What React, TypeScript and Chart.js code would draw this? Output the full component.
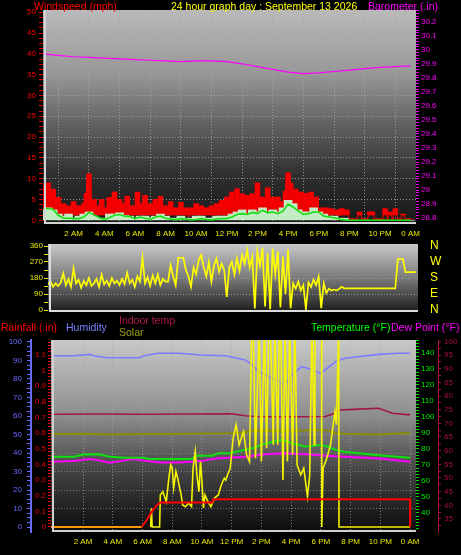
import React, { useEffect, useRef } from 'react';
import { Chart, registerables } from 'chart.js';

Chart.register(...registerables);

const FONT = '"Liberation Sans", Arial, Helvetica, sans-serif';

// ---------- shared time axis (hours of the day) ----------
const xTickHours = [2, 4, 6, 8, 10, 12, 14, 16, 18, 20, 22, 24];
const xTickLabels = ['2 AM', '4 AM', '6 AM', '8 AM', '10 AM', '12 PM', '2 PM', '4 PM', '6 PM', '8 PM', '10 PM', '0 AM'];

// ---------- top panel: wind (mph) & barometer (in) ----------
const gustHours = Array.from({ length: 145 }, (_, i) => i / 6); // 10-minute samples
const gustMph = [
  8.5, 6, 9, 5, 7.5, 4,
  5.5, 2.5, 4, 2, 3.5, 2.5,
  4.5, 2, 3.5, 2, 4, 6.5,
  11.2, 3, 5, 2, 3.5, 5,
  2.5, 3, 5.5, 3, 6.8, 3.5,
  5, 2.5, 4, 5.8, 2.5, 3.5,
  2, 6.8, 3, 4, 6, 2.5,
  4, 2, 5, 3, 5.8, 2,
  3.5, 2, 4.5, 1.5, 3, 1.5,
  4.3, 1.5, 3, 1, 3, 2,
  4, 2, 3.5, 1.5, 3, 2,
  3.5, 2, 4, 2.5, 4.8, 2,
  5.6, 2.5, 6.8, 3, 7.6, 3,
  6.4, 3.5, 6, 3, 6.4, 2.5,
  9, 3, 5.6, 3, 7.8, 3.5,
  5.6, 2.5, 5.6, 3, 4.5, 7,
  11.4, 8.9, 6, 7.5, 4, 6.8,
  4.5, 6.5, 3.5, 6.8, 3, 5.6,
  2.5, 3, 2, 3, 2, 2.8,
  1.5, 2.5, 1.2, 2.8, 1.5, 2.5,
  0.3, 0.3, 0.3, 0.3, 2, 0.3,
  0.3, 0.3, 2, 2, 0.3, 0.3,
  0.3, 0.3, 2.8, 0.3, 2, 0.3,
  2.8, 0.3, 0.3, 1.5, 0.3, 0.3,
  0.3,
];
const windHours = Array.from({ length: 73 }, (_, i) => i / 3); // 20-minute samples
const windAvgMph = [
  2.6, 2.9, 2.6, 1.2, 0.5, 0.5, 0.4, 0.4, 0.8, 1.9, 1.3, 0.6,
  0.2, 0.6, 1.2, 1.4, 1.0, 0.9, 0.4, 0.8, 0.5, 0.2, 0.8, 1.0,
  0.5, 0.3, 0.1, 0.4, 0.3, 0.1, 0.2, 0.4, 0.2, 0.1, 0.3, 0.4,
  0.4, 0.8, 1.4, 1.6, 1.4, 1.9, 1.6, 2.4, 1.8, 2.0, 1.6, 2.2,
  3.9, 3.2, 2.2, 1.4, 1.6, 2.0, 2.0, 1.0, 0.8, 0.6, 0.3, 0.1,
  0, 0, 0, 0, 0, 0, 0, 0, 0, 0, 0, 0,
  0,
];
const windSpeedMph = [
  2.5, 3, 2.5, 1.5, 1, 1.5, 0.5, 1, 1.5, 2, 1, 0.5,
  0.5, 1.5, 1.5, 1.8, 1.2, 1, 0.5, 1, 1, 0.5, 1, 1.5,
  1, 0.5, 0.5, 1, 0.5, 0.5, 1, 1, 0.5, 0.5, 1, 1,
  1, 1.5, 2, 2.5, 1.5, 2.5, 2, 3, 2, 2.5, 2, 3,
  4.8, 4, 2.5, 2, 2, 3, 2, 1.5, 1, 1, 0.5, 0.5,
  0, 0, 0, 0, 0, 0, 0, 0, 0, 0, 0, 0,
  0,
];
const baroHours = Array.from({ length: 25 }, (_, i) => i);
const baroInches = [
  29.97, 29.96, 29.95, 29.945, 29.94, 29.935, 29.93, 29.925, 29.92, 29.915, 29.92, 29.92,
  29.915, 29.9, 29.88, 29.86, 29.84, 29.83, 29.835, 29.845, 29.855, 29.865, 29.875, 29.88, 29.885,
];

// ---------- middle panel: wind direction (degrees) ----------
const dirHours = Array.from({ length: 145 }, (_, i) => i / 6);
const windDirDeg = [
  145, 160, 130, 150, 135, 155,
  206, 140, 175, 130, 234, 150,
  170, 125, 165, 140, 180, 135,
  150, 175, 130, 200, 145, 165,
  135, 180, 150, 165, 140, 175,
  145, 210, 150, 170, 130, 190,
  160, 294, 150, 185, 135, 195,
  150, 200, 140, 175, 160, 160,
  253, 190, 140, 294, 294, 294,
  225, 190, 130, 240, 200, 281,
  309, 240, 190, 270, 160, 250,
  290, 215, 260, 225, 73, 240,
  270, 200, 290, 220, 310, 260,
  337, 240, 300, 9, 330, 250,
  350, 20, 320, 5, 345, 200,
  330, 15, 300, 90, 340, 10,
  150, 120, 160, 110, 140, 5,
  155, 130, 170, 140, 187, 10,
  150, 95, 120, 110, 115, 110,
  118, 130, 122, 122, 122, 122,
  122, 122, 122, 122, 122, 122,
  122, 122, 122, 122, 122, 122,
  122, 122, 122, 122, 122, 287,
  287, 287, 213, 213, 213, 213,
  213,
];
const compassValues = [0, 90, 180, 270, 360];
const compassLabels = ['N', 'E', 'S', 'W', 'N'];

// ---------- bottom panel ----------
const rainHours = [-0.15, 5.95, 6.29, 6.63, 6.97, 7.2, 10.7, 10.75, 24.0, 24.01];
const rainInches = [0, 0, 0.045, 0.098, 0.141, 0.156, 0.156, 0.178, 0.178, 0];

const humHours = [-0.15, 1.35, 2.5, 2.7, 3.6, 5.8, 6.1, 7.05, 8.5, 9.9, 11.6, 12.9, 13.4, 13.8, 14.7, 15.6, 16.05, 16.7, 17.4, 17.96, 18.3, 19.0, 19.6, 20.5, 21.9, 23.2, 24.0];
const humPct = [92.6, 92.6, 93.3, 92.6, 91.5, 91.5, 92.6, 93.9, 93.9, 93, 92.6, 90.3, 87.6, 84, 80.4, 76.8, 82, 86.7, 85, 83, 85, 89.4, 91.2, 92, 93.3, 93.9, 93.9];

const indoorHours = [-0.15, 3, 6, 9, 12, 12.9, 13.8, 16, 18.3, 18.9, 19.3, 20.5, 21.9, 22.8, 24.0];
const indoorF = [73.3, 73.4, 73.3, 73.4, 73.5, 72.8, 72.4, 72.4, 72.5, 73.6, 74.9, 75.2, 75.5, 73.7, 73.1];

const solarAvgHours = [-0.15, 2, 4, 6, 8, 10, 12, 12.9, 13.4, 15, 17, 17.8, 18.4, 19.0, 20, 22, 23, 24.0];
const solarAvg = [594, 596, 592, 595, 594, 598, 600, 605, 617, 615, 617, 622, 618, 600, 594, 592, 598, 600];

const tempHours = [-0.15, 1.4, 2.0, 3.0, 3.8, 4.8, 6.1, 6.4, 9.3, 9.6, 10.7, 11.1, 11.8, 12.5, 13.4, 14.1, 15.0, 15.4, 16.1, 17.0, 17.8, 18.3, 19.0, 19.6, 21.0, 22.3, 24.0];
const tempF = [75.2, 75.2, 76.5, 76.7, 75.2, 74.5, 74.5, 73.7, 73.7, 75.8, 75.8, 77.3, 77.3, 78.7, 80.4, 82.9, 85, 85.6, 83.5, 81.4, 82.5, 82, 79.4, 78.3, 76.9, 75.8, 74.5];

const dewHours = [-0.15, 1.35, 2.5, 3.1, 3.8, 4.5, 5.4, 6.3, 7.2, 8.5, 9.9, 11.1, 11.8, 12.9, 14.3, 15.6, 17.0, 18.3, 19.6, 21.0, 22.3, 24.0];
const dewF = [72.0, 72.4, 73.7, 72.8, 71.4, 72.4, 73.7, 72.4, 71.6, 71.6, 72.4, 74.2, 74.5, 75.2, 76.7, 77.3, 76.7, 75.8, 75.2, 74.5, 73.7, 72.0];

const solarHours = [
  6.55, 6.6, 6.65, 7.15, 7.2, 7.37, 7.6, 7.8, 7.9, 8.0, 8.1, 8.25, 8.36, 8.6, 8.7, 8.9, 9.1, 9.3, 9.4, 9.55,
  9.66, 9.8, 9.9, 10.0, 10.1, 10.2, 10.4, 10.6, 10.85, 11.1, 11.3, 11.5, 11.6, 11.75, 11.9, 12.1, 12.3, 12.5, 12.8, 13.0,
  13.2, 13.35, 13.45, 13.6, 13.85, 14.0, 14.2, 14.35, 14.5, 14.6, 14.8, 14.9, 15.1, 15.2, 15.3, 15.45, 15.6, 15.75, 15.9, 16.1,
  16.25, 16.4, 16.65, 16.85, 17.1, 17.25, 17.4, 17.55, 17.6, 17.85, 18.05, 18.06, 18.15, 18.4, 18.65, 18.8, 18.95, 19.05, 19.2, 19.22,
  24.0,
];
const solarWm2 = [
  0, 120, 0, 0, 205, 226, 162, 333, 397, 376, 250, 355, 314, 205, 141, 130, 154, 130, 376, 483,
  333, 225, 419, 290, 122, 205, 162, 130, 186, 205, 269, 312, 300, 340, 376, 569, 654, 526, 611, 462,
  419, 1300, 1300, 440, 1300, 419, 1300, 504, 1300, 1300, 526, 1300, 526, 1300, 1300, 301, 1300, 419, 1300, 462,
  1300, 397, 333, 376, 194, 333, 1300, 526, 1300, 1300, 1300, 0, 376, 440, 526, 633, 739, 654, 1300, 0,
  0,
];

// ---------- helpers ----------
function range(a: number, b: number, step: number) {
  const out: number[] = [];
  const n = Math.round((b - a) / step);
  for (let i = 0; i <= n; i++) out.push(+(a + i * step).toFixed(4));
  return out;
}
const isMajor = (v: number, step: number) => {
  const r = v / step;
  return Math.abs(r - Math.round(r)) < 1e-6;
};
const fixedTicks = (values: number[]) => (scale: any) => {
  scale.ticks = values.map((v) => ({ value: v }));
};
const pts = (xs: number[], ys: any[]) => xs.map((x, i) => ({ x, y: ys[i] }));
const tickFont = { family: FONT, size: 8 };
const GRID = 'rgba(165,165,165,0.85)';
const xLabel = (v: number) => {
  const i = xTickHours.indexOf(v);
  return i >= 0 ? xTickLabels[i] : '';
};

function panelPlugin(stops: [number, string][], frame: string, frameW: number) {
  return {
    id: 'panel',
    beforeDraw(chart: any) {
      const { ctx, chartArea: a } = chart;
      const g = ctx.createLinearGradient(0, a.top, 0, a.bottom);
      stops.forEach(([p, c]) => g.addColorStop(p, c));
      ctx.save();
      ctx.fillStyle = g;
      ctx.fillRect(a.left, a.top, a.right - a.left, a.bottom - a.top);
      ctx.restore();
    },
    afterDraw(chart: any) {
      const { ctx, chartArea: a } = chart;
      ctx.save();
      ctx.strokeStyle = frame;
      ctx.lineWidth = frameW;
      ctx.beginPath();
      ctx.moveTo(a.left + frameW / 2 + 1, a.top);
      ctx.lineTo(a.left + frameW / 2 + 1, a.bottom - frameW / 2);
      ctx.lineTo(a.right, a.bottom - frameW / 2);
      ctx.stroke();
      ctx.restore();
    },
  };
}

const baseOptions = {
  responsive: false,
  animation: false,
  devicePixelRatio: 1,
  events: [],
  plugins: { legend: { display: false }, tooltip: { enabled: false } },
};

function topConfig(): any {
  return {
    type: 'line',
    data: {
      datasets: [
        { type: 'line', data: pts(baroHours, baroInches), borderColor: '#ff00ff', borderWidth: 1.2, pointRadius: 0, yAxisID: 'yBaro', order: 0 },
        { type: 'line', data: pts(windHours, windAvgMph), borderColor: '#12e012', borderWidth: 1.6, pointRadius: 0, yAxisID: 'yWind', order: 1 },
        { type: 'bar', data: pts(windHours, windSpeedMph), backgroundColor: '#c4ecc4', barThickness: 8, grouped: false, yAxisID: 'yWind', order: 2 },
        { type: 'line', data: pts(gustHours, gustMph), borderColor: '#ff0000', borderWidth: 1, pointRadius: 0, yAxisID: 'yWind', order: 3 },
        { type: 'bar', data: pts(gustHours, gustMph.map((g) => [Math.min(1.3, g), g])), backgroundColor: '#ee0000', barThickness: 5, grouped: false, yAxisID: 'yWind', order: 4 },
      ],
    },
    options: {
      ...baseOptions,
      layout: { padding: { top: 10, left: 0, right: 0, bottom: 0 } },
      scales: {
        x: {
          type: 'linear', position: 'bottom', min: 0, max: 24.35, offset: false,
          afterBuildTicks: fixedTicks(xTickHours),
          afterFit: (s: any) => { s.height = 16; },
          ticks: { autoSkip: false, maxRotation: 0, color: '#e8e800', font: tickFont, padding: 5, callback: xLabel },
          grid: { color: GRID, drawTicks: false },
          border: { display: false, dash: [1, 2] },
        },
        yWind: {
          type: 'linear', position: 'left', min: -0.89, max: 50.55,
          afterBuildTicks: fixedTicks(range(0, 50, 1.25)),
          afterFit: (s: any) => { s.width = 43; },
          ticks: { autoSkip: false, color: '#ff0000', font: tickFont, padding: 3, callback: (v: number) => (isMajor(v, 5) ? String(Math.round(v)) : '') },
          grid: {
            color: (c: any) => (c.tick && isMajor(c.tick.value, 5) && c.tick.value > 0 && c.tick.value < 50 ? GRID : 'transparent'),
            tickColor: '#e00000', tickLength: 4,
          },
          border: { display: false, dash: [1, 2] },
        },
        yBaro: {
          type: 'linear', position: 'right', min: 28.759, max: 30.283,
          afterBuildTicks: fixedTicks(range(28.8, 30.28, 0.02)),
          afterFit: (s: any) => { s.width = 45; },
          ticks: { autoSkip: false, color: '#ff00ff', font: tickFont, padding: 2, callback: (v: number) => (isMajor(v, 0.1) && v <= 30.21 ? String(Math.round(v * 10) / 10) : '') },
          grid: { drawOnChartArea: false, tickColor: '#ff00ff', tickLength: 3 },
          border: { display: false },
        },
      },
    },
    plugins: [panelPlugin([[0, '#bababa'], [0.3, '#979797'], [0.55, '#5e5e5e'], [0.78, '#2e2e2e'], [1, '#181818']], '#d4d4d4', 2)],
  };
}

function midConfig(): any {
  return {
    type: 'line',
    data: {
      datasets: [
        { data: pts(dirHours, windDirDeg), borderColor: '#ffff00', borderWidth: 1.7, pointRadius: 0, yAxisID: 'yDir' },
      ],
    },
    options: {
      ...baseOptions,
      layout: { padding: { top: 8, left: 0, right: 0, bottom: 8 } },
      scales: {
        x: { type: 'linear', min: 0, max: 24.15, display: false },
        yDir: {
          type: 'linear', position: 'left', min: -11.25, max: 371.25,
          afterBuildTicks: fixedTicks(range(0, 360, 45)),
          afterFit: (s: any) => { s.width = 48; },
          ticks: { autoSkip: false, color: '#e8e800', font: tickFont, padding: 1, callback: (v: number) => (v % 90 === 0 ? String(v) : '') },
          grid: {
            color: (c: any) => (c.tick && c.tick.value % 90 === 0 && c.tick.value > 0 && c.tick.value < 360 ? GRID : 'transparent'),
            tickColor: '#e8e800', tickLength: 4,
          },
          border: { display: false, dash: [1, 2] },
        },
        yCompass: {
          type: 'linear', position: 'right', min: -11.25, max: 371.25,
          afterBuildTicks: fixedTicks(compassValues),
          afterFit: (s: any) => { s.width = 43; },
          ticks: { autoSkip: false, color: '#ffff00', font: { family: FONT, size: 12 }, padding: 0, callback: (v: number) => compassLabels[compassValues.indexOf(v)] },
          grid: { display: false, drawOnChartArea: false, drawTicks: true, tickLength: 12 },
          border: { display: false },
        },
      },
    },
    plugins: [panelPlugin([[0, '#c8c8c8'], [0.5, '#7a7a7a'], [1, '#1c1c1c']], '#dcdcdc', 2)],
  };
}

function botConfig(): any {
  return {
    type: 'line',
    data: {
      datasets: [
        {
          data: pts(rainHours, rainInches), borderColor: '#ff0000', borderWidth: 2, pointRadius: 0, yAxisID: 'yRain', order: 1,
          segment: { borderColor: (c: any) => (c.p0.parsed.y === 0 && c.p1.parsed.y === 0 ? '#ff9900' : undefined) },
        },
        { data: pts(solarHours, solarWm2), borderColor: '#f4f400', borderWidth: 1.6, pointRadius: 0, yAxisID: 'ySolar', order: 2 },
        { data: pts(tempHours, tempF), borderColor: '#10e010', borderWidth: 2, pointRadius: 0, yAxisID: 'yTemp', order: 3 },
        { data: pts(dewHours, dewF), borderColor: '#ff00ff', borderWidth: 2, pointRadius: 0, yAxisID: 'yTemp', order: 4 },
        { data: pts(solarAvgHours, solarAvg), borderColor: '#8c8c00', borderWidth: 2, pointRadius: 0, yAxisID: 'ySolar', order: 5 },
        { data: pts(indoorHours, indoorF), borderColor: '#a01848', borderWidth: 1.6, pointRadius: 0, yAxisID: 'yIndoor', order: 6 },
        { data: pts(humHours, humPct), borderColor: '#7c7cff', borderWidth: 1.6, pointRadius: 0, yAxisID: 'yHum', order: 7 },
      ],
    },
    options: {
      ...baseOptions,
      layout: { padding: { top: 25, left: 0, right: 0, bottom: 0 } },
      scales: {
        x: {
          type: 'linear', position: 'bottom', min: -0.155, max: 24.4,
          afterBuildTicks: fixedTicks(xTickHours),
          afterFit: (s: any) => { s.height = 23; },
          ticks: { autoSkip: false, maxRotation: 0, color: '#e8e800', font: tickFont, padding: 5, callback: xLabel },
          grid: { color: 'rgba(165,165,165,0.7)', drawTicks: false },
          border: { display: false, dash: [1, 2] },
        },
        yHum: {
          type: 'linear', position: 'left', weight: 2, min: -2.7, max: 101.08,
          afterBuildTicks: fixedTicks(range(0, 100, 2.5)),
          afterFit: (s: any) => { s.width = 31; },
          ticks: { autoSkip: false, color: '#6a6aff', font: tickFont, padding: 5, callback: (v: number) => (isMajor(v, 10) ? String(Math.round(v)) : '') },
          grid: {
            color: (c: any) => (c.tick && isMajor(c.tick.value, 10) && c.tick.value > 0 && c.tick.value < 100 ? 'rgba(165,165,165,0.6)' : 'transparent'),
            tickColor: '#6a6aff', tickLength: 4,
          },
          border: { display: true, color: '#6a6aff', width: 2, dash: [1, 2] },
        },
        yRain: {
          type: 'linear', position: 'left', weight: 1, min: -0.032, max: 1.196,
          afterBuildTicks: fixedTicks(range(0, 1.18, 0.02)),
          afterFit: (s: any) => { s.width = 20; },
          ticks: { autoSkip: false, color: '#ee0000', font: tickFont, padding: 2, callback: (v: number) => (isMajor(v, 0.1) ? String(Math.round(v * 10) / 10) : '') },
          grid: { drawOnChartArea: false, tickColor: '#ee0000', tickLength: 3 },
          border: { display: false },
        },
        ySolar: { type: 'linear', display: false, min: -32, max: 1196 },
        yTemp: {
          type: 'linear', position: 'right', weight: 1, min: 28.1, max: 148.1,
          afterBuildTicks: fixedTicks(range(30, 148, 2)),
          afterFit: (s: any) => { s.width = 22; },
          ticks: { autoSkip: false, color: '#00ee00', font: tickFont, padding: 2, callback: (v: number) => (isMajor(v, 10) && v >= 40 && v <= 140 ? String(Math.round(v)) : '') },
          grid: { drawOnChartArea: false, tickColor: '#00dd00', tickLength: 3 },
          border: { display: false },
        },
        yIndoor: {
          type: 'linear', position: 'right', weight: 2, min: 30.24, max: 100.49,
          afterBuildTicks: fixedTicks(range(32.5, 100, 2.5)),
          afterFit: (s: any) => { s.width = 23; },
          ticks: { autoSkip: false, color: '#a8103c', font: tickFont, padding: 3, callback: (v: number) => (isMajor(v, 5) && v >= 35 ? String(Math.round(v)) : '') },
          grid: { drawOnChartArea: false, tickColor: '#a8103c', tickLength: 3 },
          border: { display: true, color: '#a8103c', width: 1 },
        },
      },
    },
    plugins: [panelPlugin([[0, '#c8c8c8'], [0.4, '#8c8c8c'], [0.7, '#404040'], [1, '#0c0c0c']], '#d0d0d0', 2)],
  };
}

const txt = (left: number, top: number, color: string): React.CSSProperties => ({
  position: 'absolute', left, top, color, fontFamily: FONT, fontSize: 10.5, lineHeight: '12px', whiteSpace: 'nowrap',
});

export default function App() {
  const topRef = useRef<HTMLCanvasElement>(null);
  const midRef = useRef<HTMLCanvasElement>(null);
  const botRef = useRef<HTMLCanvasElement>(null);

  useEffect(() => {
    Chart.defaults.font.family = FONT;
    const charts = [
      new Chart(topRef.current as HTMLCanvasElement, topConfig()),
      new Chart(midRef.current as HTMLCanvasElement, midConfig()),
      new Chart(botRef.current as HTMLCanvasElement, botConfig()),
    ];
    return () => charts.forEach((c) => c.destroy());
  }, []);

  return (
    <div style={{ position: 'fixed', left: 0, top: 0, width: 461, height: 555, background: '#000', overflow: 'hidden' }}>
      <canvas ref={topRef} width={461} height={240} style={{ position: 'absolute', left: 0, top: 0, width: 461, height: 240 }} />
      <canvas ref={midRef} width={461} height={84} style={{ position: 'absolute', left: 0, top: 236, width: 461, height: 84 }} />
      <canvas ref={botRef} width={461} height={240} style={{ position: 'absolute', left: 0, top: 315, width: 461, height: 240 }} />

      <span style={txt(34, 0, '#ff0000')}>Windspeed (mph)</span>
      <span style={txt(171, 0, '#ffff00')}>24 hour graph day : September 13 2026</span>
      <span style={txt(368, 0, '#ff00ff')}>Barometer (.in)</span>

      <span style={txt(1, 321, '#ff0000')}>Rainfall (.in)</span>
      <span style={txt(66, 321, '#7f7fff')}>Humidity</span>
      <span style={txt(119, 314, '#b01848')}>Indoor temp</span>
      <span style={txt(119, 326, '#a0a010')}>Solar</span>
      <span style={txt(311, 321, '#00ff00')}>Temperature (°F)</span>
      <span style={txt(391, 321, '#ff00ff')}>Dew Point (°F)</span>
    </div>
  );
}
